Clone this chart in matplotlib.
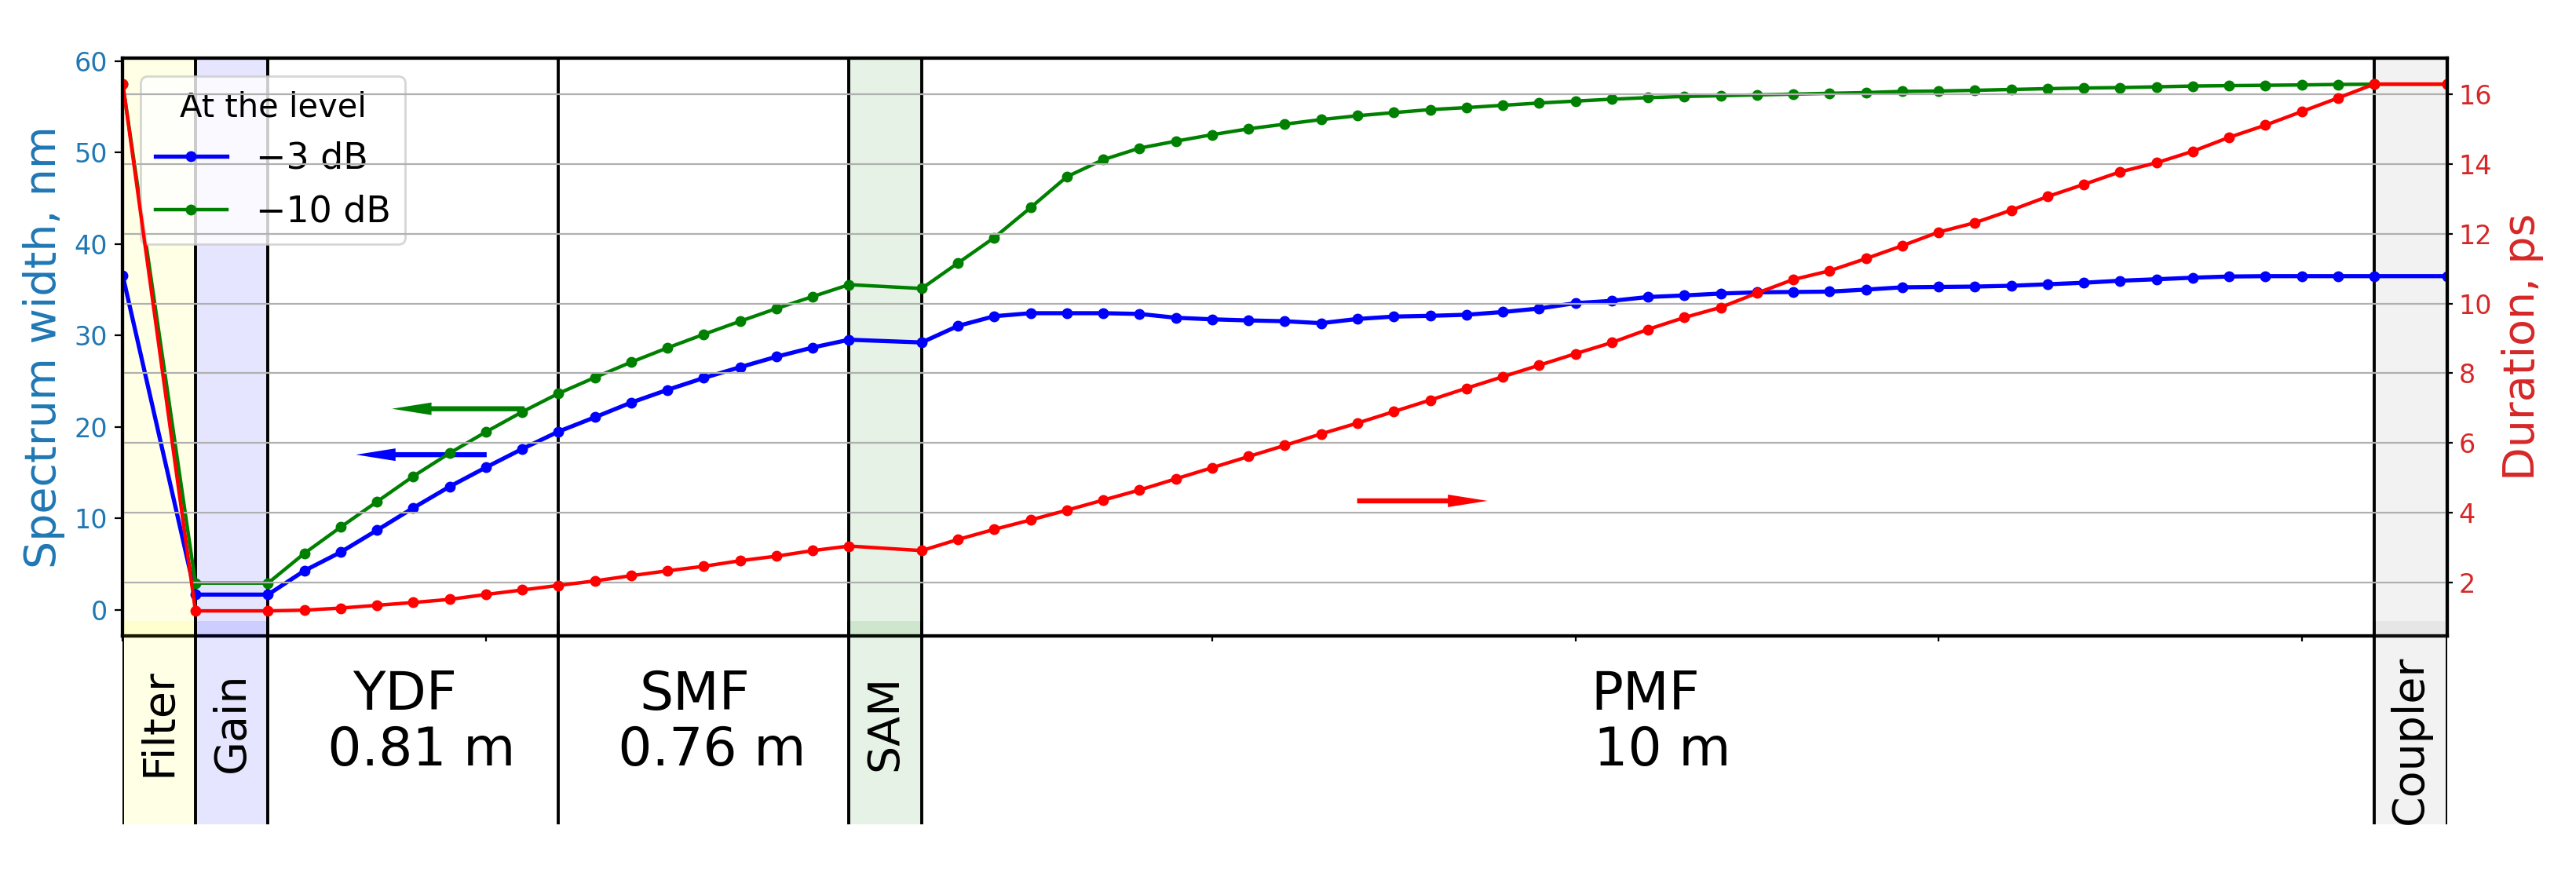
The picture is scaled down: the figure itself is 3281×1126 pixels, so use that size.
import numpy as np
import matplotlib
matplotlib.use("Agg")
import matplotlib.pyplot as plt

# --- Datos ---
# posición a lo largo de la cavidad (unidades de sección)
pos = [0, 2, 4,
       5, 6, 7, 8, 9, 10, 11, 12,
       13, 14, 15, 16, 17, 18, 19, 20,
       22,
       23, 24, 25, 26, 27, 28, 29, 30, 31, 32, 33, 34, 35, 36, 37, 38, 39, 40, 41, 42,
       43, 44, 45, 46, 47, 48, 49, 50, 51, 52, 53, 54, 55, 56, 57, 58, 59, 60, 61, 62,
       64]

# anchura espectral a -3 dB (nm)
width_3db = [36.54, 1.68, 1.68,
             4.29, 6.32, 8.72, 11.16, 13.49, 15.59, 17.61, 19.51,
             21.07, 22.68, 24.07, 25.37, 26.55, 27.69, 28.70, 29.55,
             29.25,
             31.06, 32.12, 32.45, 32.45, 32.45, 32.37, 31.95, 31.78, 31.66, 31.57, 31.36, 31.82, 32.08, 32.16, 32.28, 32.58, 32.96, 33.55, 33.80, 34.22,
             34.39, 34.60, 34.73, 34.77, 34.81, 35.03, 35.28, 35.32, 35.36, 35.45, 35.61, 35.78, 36.00, 36.16, 36.33, 36.46, 36.50, 36.50, 36.50, 36.50,
             36.50]

# anchura espectral a -10 dB (nm)
width_10db = [57.50, 2.94, 2.94,
              6.19, 9.06, 11.84, 14.62, 17.15, 19.47, 21.66, 23.68,
              25.42, 27.10, 28.66, 30.14, 31.57, 32.96, 34.27, 35.57,
              35.15,
              37.94, 40.72, 44.00, 47.38, 49.24, 50.50, 51.26, 51.97, 52.61, 53.12, 53.62, 54.04, 54.38, 54.71, 54.93, 55.18, 55.43, 55.64, 55.85, 56.02,
              56.15, 56.23, 56.32, 56.40, 56.49, 56.57, 56.70, 56.74, 56.82, 56.91, 57.00, 57.07, 57.12, 57.20, 57.29, 57.33, 57.37, 57.41, 57.46, 57.49,
              57.49]

# duración del pulso (ps)
duration = [16.31, 1.18, 1.18,
            1.20, 1.26, 1.34, 1.42, 1.51, 1.65, 1.78, 1.91,
            2.04, 2.19, 2.33, 2.46, 2.62, 2.75, 2.91, 3.04,
            2.91,
            3.23, 3.52, 3.79, 4.07, 4.36, 4.65, 4.97, 5.29, 5.61, 5.93, 6.26, 6.57, 6.90, 7.23, 7.57, 7.90, 8.23, 8.56, 8.88, 9.26,
            9.60, 9.89, 10.30, 10.69, 10.94, 11.29, 11.66, 12.05, 12.32, 12.68, 13.07, 13.42, 13.78, 14.04, 14.37, 14.77, 15.12, 15.51, 15.90, 16.30,
            16.30]

# elementos de la cavidad: (inicio, fin, color de fondo o None)
sections = [(0, 2, 'yellow'), (2, 4, 'blue'), (4, 12, None), (12, 20, None),
            (20, 22, 'green'), (22, 62, None), (62, 64, 'gray')]
rot_labels = [(1, 'Filter'), (3, 'Gain'), (21, 'SAM')]
fiber_labels = [(7.76, 'YDF\n  0.81 m'), (15.76, 'SMF\n  0.76 m'), (41.92, 'PMF\n  10 m')]

LW_FRAME = 1.4

fig = plt.figure(figsize=(16.405, 5.63), dpi=200)
ax = fig.add_axes([0.04767, 0.2802, 0.90222, 0.65426])

# fondos y separadores de cada elemento
for x0, x1, c in sections:
    if c is not None:
        ax.axvspan(x0, x1, color=c, alpha=0.1, lw=0)
for x0, x1, c in sections[1:]:
    ax.axvline(x0, color='k', lw=LW_FRAME)

ax.plot(pos, width_3db, 'b.-', lw=1.9, ms=8, label='\u22123 dB')
ax.plot(pos, width_10db, 'g.-', lw=1.6, ms=8, label='\u221210 dB')

# flechas indicando el eje de cada curva
ax.arrow(11.06, 22.0, -3.65, 0, width=0.55, head_width=1.37, head_length=1.09,
         length_includes_head=True, color='g', lw=0)
ax.arrow(10.02, 16.98, -3.60, 0, width=0.55, head_width=1.37, head_length=1.09,
         length_includes_head=True, color='b', lw=0)
ax.arrow(33.99, 11.93, 3.59, 0, width=0.55, head_width=1.37, head_length=1.09,
         length_includes_head=True, color='r', lw=0)

ax.set_xlim(0, 64)
ax.set_ylim(-2.88, 60.36)
ax.set_ylabel('Spectrum width, nm', color='tab:blue', fontsize=20)
ax.tick_params(axis='y', labelcolor='tab:blue', labelsize=12)
ax.tick_params(axis='x', labelbottom=False, length=2.5)
ax.legend(title='At the level', loc='upper left', fontsize=16.5, title_fontsize=15)

ax2 = ax.twinx()
ax2.plot(pos, duration, 'r.-', lw=1.6, ms=8)
ax2.set_ylim(0.45, 17.05)
ax2.set_ylabel('Duration, ps', color='tab:red', fontsize=20)
ax2.tick_params(axis='y', labelcolor='tab:red', labelsize=12, length=2.5, pad=3)
ax2.grid(axis='y', color='#b0b0b0', lw=0.8)
for a in (ax, ax2):
    for s in a.spines.values():
        s.set_linewidth(1.5)

# panel inferior con los nombres de los elementos
ax3 = fig.add_axes([0.04767, 0.0675, 0.90222, 0.23001], facecolor='none')
ax3.set_xlim(0, 64)
ax3.set_ylim(0, 1)
ax3.axis('off')
for x0, x1, c in sections:
    if c is not None:
        ax3.axvspan(x0, x1, color=c, alpha=0.1, lw=0)
    ax3.axvline(x0, color='k', lw=LW_FRAME)
ax3.axvline(64, color='k', lw=LW_FRAME)

for xc, txt in rot_labels:
    ax3.text(xc, 0.5, txt, rotation=90, ha='center', va='center', fontsize=20)
ax3.text(63, 0.0, 'Coupler', rotation=90, ha='center', va='bottom', fontsize=20)
for xc, txt in fiber_labels:
    ax3.text(xc, 0.5, txt, ha='center', va='center', fontsize=24.5, linespacing=1.1)

fig.savefig('out.png', dpi=200)
